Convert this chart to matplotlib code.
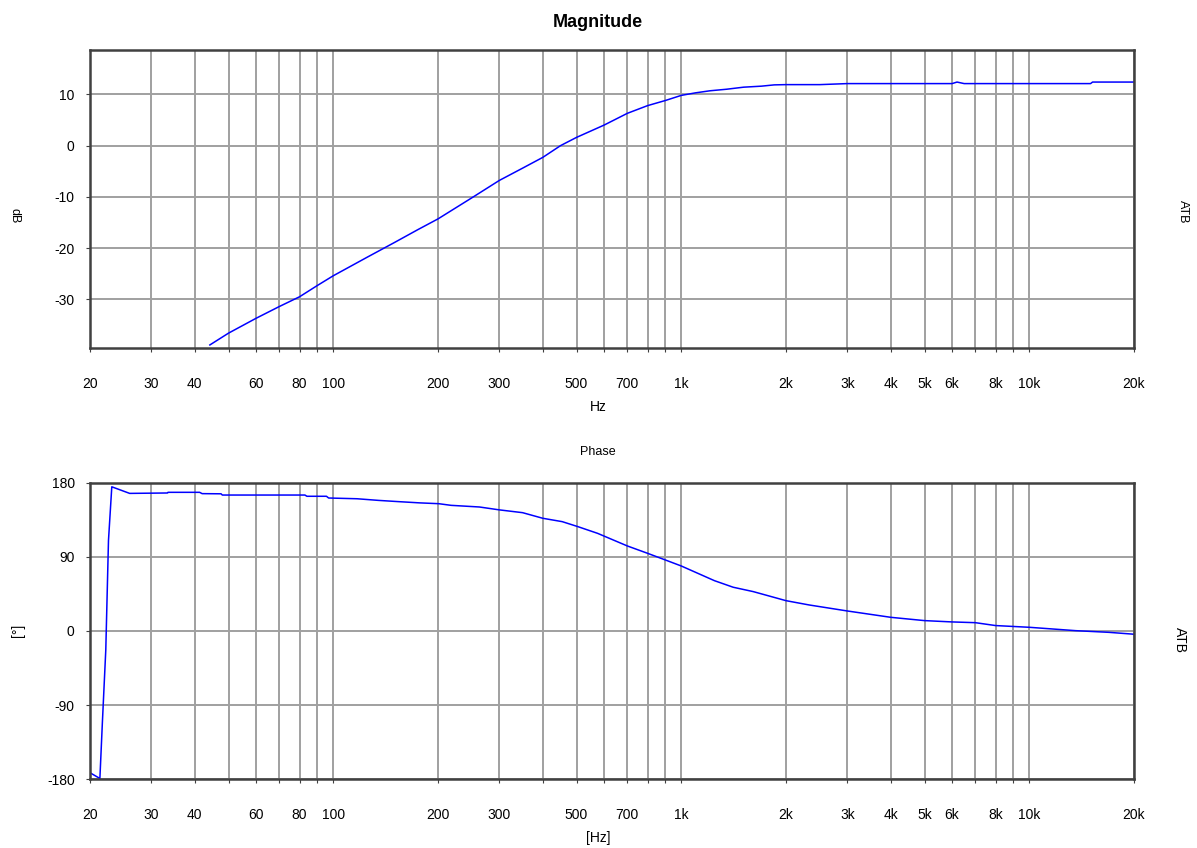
import matplotlib
matplotlib.use("Agg")
import matplotlib.pyplot as plt

plt.rcParams['font.family'] = ['Liberation Sans', 'DejaVu Sans']
plt.rcParams['axes.unicode_minus'] = False

# Magnitudo (dB)
freq_mag = [44.2, 50, 60, 70, 80, 90, 100, 125, 150, 175, 200, 250, 300, 350,
            400, 450, 500, 600, 700, 800, 900, 1000, 1100, 1210, 1350, 1510,
            1700, 1850, 2000, 2500, 3000, 4000, 5000, 6000, 6200, 6500, 8000,
            10000, 12000, 15000, 15200, 20000]
mag_db = [-38.9, -36.6, -33.7, -31.4, -29.5, -27.3, -25.4, -21.8, -18.9, -16.4,
          -14.3, -10.2, -6.8, -4.4, -2.3, 0.0, 1.6, 4.0, 6.3, 7.8, 8.8, 9.8,
          10.3, 10.7, 11.0, 11.4, 11.6, 11.85, 11.9, 11.9, 12.1, 12.1, 12.1,
          12.1, 12.4, 12.1, 12.1, 12.1, 12.1, 12.1, 12.4, 12.4]

# Fase (graus)
freq_fase = [20, 21.35, 21.7, 22.2, 22.6, 23.1, 26, 33.4, 33.5, 41.3, 42, 47.6,
             48, 82.9, 84, 95.6, 97, 117, 135, 154, 177, 201, 218, 263, 300,
             350, 400, 455, 505, 575, 700, 800, 900, 1000, 1245, 1410, 1610,
             2000, 2330, 3000, 4000, 5000, 6000, 7000, 8000, 10000, 13600,
             16900, 19700, 20000]
fase = [-172, -179, -112, -23, 110, 175, 167, 167.5, 168.3, 168.3, 166.7, 166.5,
        165, 165, 163.5, 163.5, 161.4, 160.5, 158.5, 157, 155.5, 154.5, 152.5,
        150.5, 147, 143.6, 136.8, 132.7, 126.6, 118.5, 103.2, 94.3, 86.2, 78.9,
        61.1, 53.1, 47.8, 36.8, 31.6, 24.3, 16.6, 12.6, 11, 10.1, 6.6, 4.5,
        0.4, -1.6, -3.7, -4]

ticks_x = [20, 30, 40, 50, 60, 70, 80, 90, 100, 200, 300, 400, 500, 600, 700,
           800, 900, 1000, 2000, 3000, 4000, 5000, 6000, 7000, 8000, 9000,
           10000, 20000]
labels_x = ['20', '30', '40', '', '60', '', '80', '', '100', '200', '300', '',
            '500', '', '700', '', '', '1k', '2k', '3k', '4k', '5k', '6k', '',
            '8k', '', '10k', '20k']

fig = plt.figure(figsize=(11.97, 8.48), dpi=100)
ax1 = fig.add_axes([0.0752, 0.5896, 0.8722, 0.3514])
ax2 = fig.add_axes([0.0752, 0.0810, 0.8722, 0.3498])


def estilo(ax, yticks):
    ax.set_xscale('log')
    ax.set_xlim(20, 20000)
    ax.set_xticks(ticks_x)
    ax.set_xticklabels(labels_x)
    ax.minorticks_off()
    ax.set_yticks(yticks)
    ax.grid(True, color='#a0a0a0', linewidth=1.4)
    ax.set_axisbelow(True)
    for s in ax.spines.values():
        s.set_color('#404040')
        s.set_linewidth(1.8)
    ax.tick_params(axis='x', length=3, pad=18, labelsize=10, color='#404040')
    ax.tick_params(axis='y', length=3, pad=8, labelsize=10, color='#404040')


ax1.plot(freq_mag, mag_db, color='#0000ff', linewidth=1.1)
estilo(ax1, [-30, -20, -10, 0, 10])
ax1.set_ylim(-39.5, 18.65)

ax2.plot(freq_fase, fase, color='#0000ff', linewidth=1.1)
estilo(ax2, [-180, -90, 0, 90, 180])
ax2.set_ylim(-180, 180)

fig.text(0.4996, 0.974, 'Magnitude', ha='center', va='center', fontsize=13, fontweight='bold')
fig.text(0.4996, 0.520, 'Hz', ha='center', va='center', fontsize=10)
fig.text(0.4996, 0.467, 'Phase', ha='center', va='center', fontsize=9)
fig.text(0.4996, 0.012, '[Hz]', ha='center', va='center', fontsize=10)
fig.text(0.0125, 0.746, 'dB', ha='center', va='center', fontsize=9, rotation=270)
fig.text(0.988, 0.750, 'ATB', ha='center', va='center', fontsize=9, rotation=270)
fig.text(0.015, 0.257, '[°]', ha='center', va='center', fontsize=10, rotation=90)
fig.text(0.986, 0.245, 'ATB', ha='center', va='center', fontsize=10, rotation=270)

fig.savefig('out.png', dpi=100)
